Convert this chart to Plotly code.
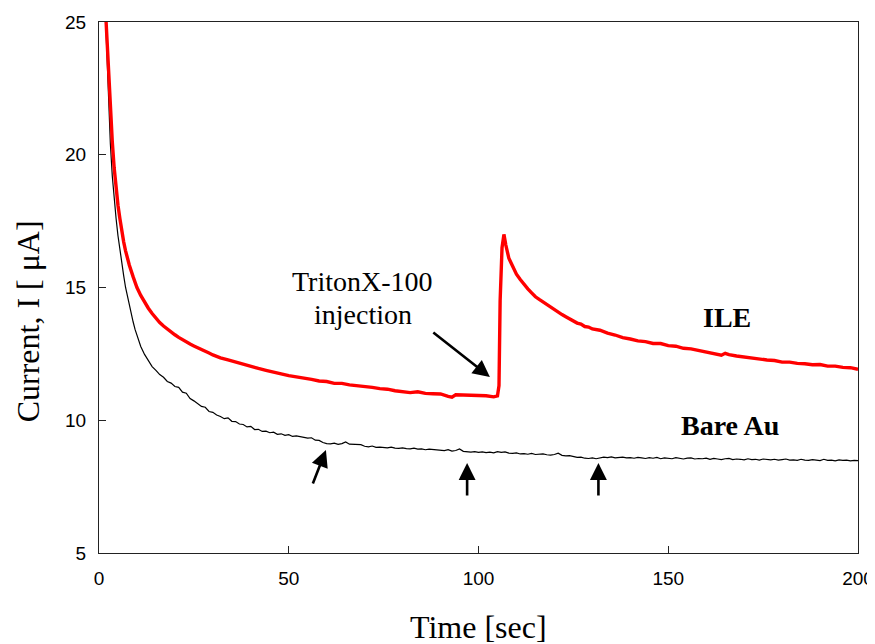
import plotly.graph_objects as go

# ---- data ----
bare_t = [1.5, 2, 2.5, 3, 3.5, 4, 4.5, 5, 5.5, 6, 6.5, 7, 7.5, 8, 8.5, 9, 9.5, 10,
          11, 12, 13, 14, 15, 16, 17, 18, 19, 20, 21, 22, 23, 24, 25, 26, 27, 28, 29, 30,
          31, 32, 33, 34, 35, 36, 37, 38, 39, 40, 41, 42, 43, 44, 45, 46, 47, 48, 49, 50,
          51, 52, 53, 54, 55, 56, 57, 58, 59, 60, 61, 62, 63, 64, 65, 66, 67, 68, 69,
          70, 71, 72, 73, 74, 75, 76, 77, 78, 79, 80, 81, 82, 83, 84, 85, 86, 87, 88, 89,
          90, 91, 92, 93, 94, 95, 96, 97, 98, 99, 100, 101, 102, 103, 104, 105, 106, 107, 108, 109,
          110, 111, 112, 113, 114, 115, 116, 117, 118, 119, 120, 121, 122, 123, 124, 125, 126, 127, 128, 129,
          130, 131, 132, 133, 134, 135, 136, 137, 138, 139, 140, 141, 142, 143, 144, 145, 146, 147, 148, 149,
          150, 151, 152, 153, 154, 155, 156, 157, 158, 159, 160, 161, 162, 163, 164, 165, 166, 167, 168, 169,
          170, 171, 172, 173, 174, 175, 176, 177, 178, 179, 180, 181, 182, 183, 184, 185, 186, 187, 188, 189,
          190, 191, 192, 193, 194, 195, 196, 197, 198, 199, 200]
bare_i = [26.0, 24.2, 22.0, 20.4, 19.2, 18.3, 17.6, 16.95, 16.4, 15.9, 15.45, 15.0, 14.65, 14.3, 13.98, 13.7, 13.42, 13.18,
          12.78, 12.48, 12.25, 12.02, 11.88, 11.72, 11.62, 11.46, 11.40, 11.27, 11.24, 11.06, 11.02, 10.82, 10.73, 10.62, 10.52, 10.49, 10.33, 10.30,
          10.20, 10.14, 10.06, 10.09, 9.96, 9.95, 9.86, 9.84, 9.75, 9.77, 9.65, 9.66, 9.58, 9.59, 9.53, 9.55, 9.47, 9.49, 9.43, 9.46,
          9.39, 9.41, 9.38, 9.37, 9.33, 9.34, 9.25, 9.24, 9.16, 9.12, 9.11, 9.14, 9.09, 9.12, 9.18, 9.10, 9.09, 9.07, 9.08,
          9.02, 9.00, 9.03, 8.98, 8.99, 8.98, 8.96, 8.99, 8.95, 8.94, 8.96, 8.93, 8.92, 8.95, 8.91, 8.92, 8.89, 8.91, 8.90, 8.87,
          8.88, 8.86, 8.89, 8.84, 8.86, 8.92, 8.83, 8.81, 8.80, 8.82, 8.79, 8.81, 8.78, 8.80, 8.77, 8.82, 8.79, 8.81, 8.76, 8.75,
          8.77, 8.73, 8.74, 8.72, 8.75, 8.71, 8.72, 8.73, 8.70, 8.69, 8.71, 8.76, 8.68, 8.66, 8.67, 8.63, 8.60, 8.61, 8.57, 8.56,
          8.58, 8.55, 8.59, 8.61, 8.59, 8.62, 8.58, 8.60, 8.61, 8.58, 8.59, 8.57, 8.60, 8.58, 8.56, 8.59, 8.57, 8.60, 8.55, 8.58,
          8.57, 8.55, 8.59, 8.56, 8.54, 8.57, 8.58, 8.54, 8.56, 8.55, 8.57, 8.53, 8.56, 8.54, 8.52, 8.55, 8.56, 8.52, 8.54, 8.53,
          8.51, 8.55, 8.52, 8.53, 8.50, 8.54, 8.52, 8.51, 8.53, 8.50, 8.52, 8.54, 8.50, 8.51, 8.49, 8.53, 8.50, 8.49, 8.52, 8.50,
          8.48, 8.53, 8.49, 8.50, 8.47, 8.51, 8.49, 8.50, 8.47, 8.49, 8.48]

ile_t = [1.8, 2, 2.5, 3, 3.5, 4, 4.5, 5, 5.5, 6, 6.5, 7, 7.5, 8, 9, 10, 11, 12, 13, 14, 15, 16, 17, 18, 19, 20,
         21, 22, 23, 24, 25, 26, 27, 28, 29, 30, 31, 32, 34, 36, 38, 40, 42, 44, 46, 48, 50,
         52, 54, 56, 58, 60, 62, 64, 66, 68, 70, 72, 74, 76, 78, 80, 82, 84, 86, 88, 90,
         92, 93, 94, 96, 98, 100, 102, 104, 105, 105.4, 105.7, 106.2, 106.7, 107.2, 108, 109, 110,
         111, 112, 113, 114, 115, 116, 117, 118, 119, 120, 121, 122, 123, 124, 125, 126, 127, 128, 129, 130,
         132, 134, 136, 138, 140, 142, 144, 146, 148, 150, 152, 154, 156, 158, 160, 162, 164, 165, 166, 168, 170,
         172, 174, 176, 178, 180, 182, 184, 186, 188, 190, 192, 194, 196, 198, 200]
ile_i = [25.2, 24.6, 23.0, 21.7, 20.5, 19.5, 18.75, 18.1, 17.6, 17.1, 16.72, 16.38, 16.08, 15.84, 15.4, 15.0, 14.7, 14.45, 14.22, 14.02, 13.84, 13.68, 13.55, 13.43, 13.32, 13.22,
         13.12, 13.03, 12.95, 12.87, 12.8, 12.74, 12.68, 12.6, 12.53, 12.46, 12.4, 12.35, 12.27, 12.19, 12.1, 12.0, 11.95, 11.88, 11.8, 11.75, 11.68,
         11.64, 11.57, 11.54, 11.48, 11.46, 11.39, 11.39, 11.33, 11.31, 11.26, 11.24, 11.19, 11.17, 11.11, 11.09, 11.04, 11.07, 11.01, 11.0, 10.99,
         10.9, 10.87, 10.96, 10.95, 10.95, 10.91, 10.92, 10.88, 10.92, 11.3, 14.5, 16.5, 17.0, 16.6, 16.1, 15.8, 15.5,
         15.3, 15.1, 14.95, 14.8, 14.65, 14.55, 14.45, 14.35, 14.25, 14.18, 14.08, 13.98, 13.9, 13.82, 13.77, 13.66, 13.62, 13.53, 13.51, 13.44,
         13.39, 13.28, 13.21, 13.11, 13.06, 12.99, 12.96, 12.89, 12.89, 12.81, 12.79, 12.71, 12.69, 12.63, 12.59, 12.51, 12.45, 12.52, 12.47, 12.42, 12.38,
         12.32, 12.31, 12.27, 12.25, 12.19, 12.19, 12.14, 12.13, 12.09, 12.1, 12.04, 12.04, 11.99, 11.98, 11.92]

x_ticks = [0, 50, 100, 150, 200]
y_ticks = [5, 10, 15, 20, 25]

SERIF = "Liberation Serif, Times New Roman, serif"
SANS = "Liberation Sans, Arial, sans-serif"

fig = go.Figure()
fig.add_trace(go.Scatter(x=bare_t, y=bare_i, mode="lines", name="Bare Au",
                         line=dict(color="black", width=1.2), showlegend=False))
fig.add_trace(go.Scatter(x=ile_t, y=ile_i, mode="lines", name="ILE",
                         line=dict(color="#ff0000", width=3.4), showlegend=False))

axis_common = dict(showline=True, linecolor="#222", linewidth=1, mirror=True, automargin=False,
                   ticks="inside", ticklen=7, tickcolor="#222", showgrid=False, zeroline=False,
                   ticklabeloverflow="allow",
                   tickfont=dict(family=SANS, size=19, color="black"))
fig.update_xaxes(range=[0, 200], tickvals=x_ticks, ticklabelstandoff=8, **axis_common)
fig.update_yaxes(range=[5, 25], tickvals=y_ticks, ticklabelstandoff=8, **axis_common)

ann = []
# axis titles
ann.append(dict(text="Time [sec]", xref="paper", yref="paper", x=0.5, y=-0.139,
                xanchor="center", yanchor="middle", showarrow=False,
                font=dict(family=SERIF, size=32, color="black")))
ann.append(dict(text="Current, I [ μA]", xref="paper", yref="paper", x=-0.093, y=0.437,
                xanchor="center", yanchor="middle", textangle=-90, showarrow=False,
                font=dict(family=SERIF, size=32, color="black")))
# labels
ann.append(dict(text="TritonX-100", x=69.5, y=15.21, xref="x", yref="y", showarrow=False,
                xanchor="center", yanchor="middle", font=dict(family=SERIF, size=28, color="black")))
ann.append(dict(text="injection", x=69.5, y=14.0, xref="x", yref="y", showarrow=False,
                xanchor="center", yanchor="middle", font=dict(family=SERIF, size=28, color="black")))
ann.append(dict(text="<b>ILE</b>", x=165.5, y=13.88, xref="x", yref="y", showarrow=False,
                xanchor="center", yanchor="middle", font=dict(family=SERIF, size=28, color="black")))
ann.append(dict(text="<b>Bare Au</b>", x=166.2, y=9.80, xref="x", yref="y", showarrow=False,
                xanchor="center", yanchor="middle", font=dict(family=SERIF, size=28, color="black")))
# arrows (tail -> tip)
arrows = [((87.7, 13.35), (103.0, 11.63)),
          ((56.2, 7.56), (59.8, 8.88)),
          ((97.0, 7.11), (97.0, 8.39)),
          ((131.6, 7.11), (131.6, 8.39))]
for (ax_, ay_), (x_, y_) in arrows:
    ann.append(dict(x=x_, y=y_, ax=ax_, ay=ay_, xref="x", yref="y", axref="x", ayref="y",
                    text="", showarrow=True, arrowhead=2, arrowsize=1.3, arrowwidth=2.6,
                    arrowcolor="black", standoff=0, startstandoff=0))

# page body has an 8px margin, so the figure is 8px smaller than the window
fig.update_layout(width=867, height=636, margin=dict(l=91, r=17, t=14, b=91, autoexpand=False),
                  paper_bgcolor="white", plot_bgcolor="white", annotations=ann)

fig.write_html("out.html")
